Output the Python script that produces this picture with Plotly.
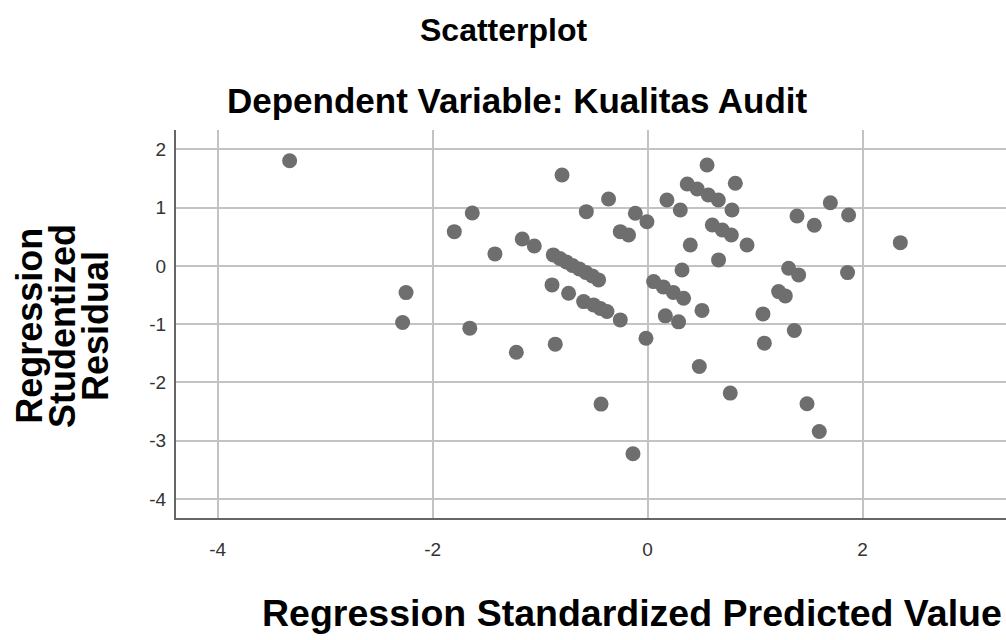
import plotly.graph_objects as go

# Regression standardized predicted values (x) and studentized residuals (y)
predicted = [
    -3.330, -1.798, -1.631, -2.247, -2.279, -1.654, -1.420, -1.166, -1.054, -0.796,
    -0.570, -0.363, -0.114, -0.006, -0.254, -0.177,
    -0.877, -0.817, -0.756, -0.700, -0.635, -0.575, -0.514, -0.456,
    -0.889, -0.735, -0.595, -0.502, -0.440, -0.378, -0.254,
    -1.221, -0.859, -0.015, -0.433, -0.136,
    0.056, 0.146, 0.239, 0.335, 0.320, 0.397, 0.165, 0.288, 0.506, 0.481, 0.769,
    0.180, 0.304, 0.369, 0.462, 0.565, 0.658, 0.553, 0.816, 0.785,
    0.602, 0.695, 0.779, 0.925, 0.660,
    1.390, 1.551, 1.700, 1.870, 2.351, 1.312, 1.405, 1.860, 1.219, 1.281,
    1.073, 1.365, 1.086, 1.483, 1.597,
]
residual = [
    1.805, 0.588, 0.909, -0.458, -0.972, -1.068, 0.206, 0.463, 0.343, 1.560,
    0.931, 1.149, 0.903, 0.759, 0.588, 0.531,
    0.189, 0.129, 0.069, 0.009, -0.051, -0.111, -0.171, -0.240,
    -0.326, -0.468, -0.612, -0.669, -0.729, -0.783, -0.926,
    -1.480, -1.342, -1.240, -2.371, -3.223,
    -0.269, -0.360, -0.454, -0.554, -0.069, 0.360, -0.857, -0.960, -0.763, -1.726, -2.182,
    1.131, 0.960, 1.406, 1.320, 1.217, 1.131, 1.732, 1.418, 0.960,
    0.703, 0.617, 0.531, 0.360, 0.103,
    0.857, 0.698, 1.085, 0.874, 0.399, -0.039, -0.154, -0.115, -0.441, -0.514,
    -0.823, -1.109, -1.325, -2.366, -2.841,
]

x_tick_values = [-4, -2, 0, 2]
x_tick_labels = ["-4", "-2", "0", "2"]
y_tick_values = [2, 1, 0, -1, -2, -3, -4]
y_tick_labels = ["2", "1", "0", "-1", "-2", "-3", "-4"]

title_main = "Scatterplot"
title_sub = "Dependent Variable: Kualitas Audit"
x_title = "Regression Standardized Predicted Value"
y_title_lines = ["Regression", "Studentized", "Residual"]

FONT = "Liberation Sans, Arial, sans-serif"

fig = go.Figure()
fig.add_trace(go.Scatter(
    x=predicted, y=residual, mode="markers",
    marker=dict(size=15, color="#6e6e6e", line=dict(width=0)),
    hoverinfo="x+y", showlegend=False,
))

fig.update_layout(
    width=1006, height=640,
    margin=dict(l=176, r=0, t=130, b=122, pad=0, autoexpand=False),
    paper_bgcolor="white", plot_bgcolor="white",
    font=dict(family=FONT, color="#222222"),
    xaxis=dict(
        range=[-4.387, 3.334], tickvals=x_tick_values, ticktext=x_tick_labels,
        showgrid=True, gridcolor="#c3c3c3", gridwidth=2, zeroline=False,
        showline=True, linecolor="#666666", linewidth=2,
        ticks="outside", ticklen=13, tickcolor="rgba(0,0,0,0)",
        tickfont=dict(size=19, color="#333333", family=FONT),
        automargin=False,
    ),
    yaxis=dict(
        range=[-4.325, 2.332], tickvals=y_tick_values, ticktext=y_tick_labels,
        showgrid=True, gridcolor="#c3c3c3", gridwidth=2, zeroline=False,
        showline=True, linecolor="#666666", linewidth=2,
        ticks="outside", ticklen=4, tickcolor="rgba(0,0,0,0)",
        tickfont=dict(size=19, color="#333333", family=FONT),
        automargin=False,
    ),
)

annotations = [
    dict(text="<b>%s</b>" % title_main, x=0.395, y=1.258, font=dict(size=32, color="black")),
    dict(text="<b>%s</b>" % title_sub, x=0.411, y=1.077, font=dict(size=35, color="black")),
    dict(text="<b>%s</b>" % x_title, x=0.549, y=-0.245, font=dict(size=37.5, color="black")),
]
y_line_x = [-0.176, -0.136, -0.0964]
for xp, line in zip(y_line_x, y_title_lines):
    annotations.append(dict(text="<b>%s</b>" % line, x=xp, y=0.495, textangle=-90,
                            font=dict(size=36, color="black")))
for a in annotations:
    a.update(xref="paper", yref="paper", showarrow=False, xanchor="center", yanchor="middle")
    a["font"]["family"] = FONT
fig.update_layout(annotations=annotations)

fig.write_html(
    "out.html",
    config={"displayModeBar": False},
    post_script="document.body.style.margin='0';document.body.style.overflow='hidden';",
)
